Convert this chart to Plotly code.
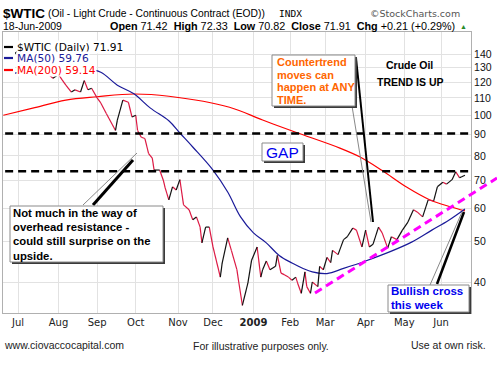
import math
import plotly.graph_objects as go

# ---------------- data ----------------
price_dates = [
    "2008-06-19", "2008-06-23", "2008-06-27", "2008-07-03", "2008-07-11", "2008-07-15", "2008-07-18",
    "2008-07-22", "2008-07-25", "2008-07-29", "2008-08-01", "2008-08-05", "2008-08-07", "2008-08-12",
    "2008-08-14", "2008-08-19", "2008-08-21", "2008-08-25", "2008-08-27", "2008-09-02", "2008-09-04",
    "2008-09-09", "2008-09-16", "2008-09-17", "2008-09-22", "2008-09-25", "2008-09-29", "2008-10-01",
    "2008-10-02", "2008-10-06", "2008-10-08", "2008-10-10", "2008-10-14", "2008-10-15", "2008-10-20",
    "2008-10-22", "2008-10-23", "2008-10-27", "2008-10-29", "2008-10-31", "2008-11-04", "2008-11-06",
    "2008-11-11", "2008-11-13", "2008-11-17", "2008-11-19", "2008-11-20", "2008-11-24", "2008-11-26",
    "2008-12-01", "2008-12-05", "2008-12-08", "2008-12-11", "2008-12-15", "2008-12-18", "2008-12-19",
    "2008-12-23", "2008-12-29", "2008-12-31", "2009-01-06", "2009-01-08", "2009-01-09", "2009-01-13",
    "2009-01-15", "2009-01-21", "2009-01-22", "2009-01-26", "2009-01-28", "2009-01-30", "2009-02-03",
    "2009-02-05", "2009-02-06", "2009-02-10", "2009-02-12", "2009-02-13", "2009-02-18", "2009-02-19",
    "2009-02-24", "2009-02-25", "2009-02-27", "2009-03-03", "2009-03-05", "2009-03-06", "2009-03-11",
    "2009-03-16", "2009-03-18", "2009-03-23", "2009-03-25", "2009-03-30", "2009-04-01", "2009-04-03",
    "2009-04-07", "2009-04-13", "2009-04-15", "2009-04-20", "2009-04-22", "2009-04-27", "2009-04-30",
    "2009-05-05", "2009-05-08", "2009-05-12", "2009-05-15", "2009-05-20", "2009-05-26", "2009-05-28",
    "2009-06-02", "2009-06-04", "2009-06-09", "2009-06-11", "2009-06-15", "2009-06-16", "2009-06-18",
]
price_close = [
    132, 136, 140, 145, 145, 138, 129,
    127, 124.7, 122.5, 125.1, 121.5, 118, 113.6,
    115, 113.6, 121, 115, 116, 110, 107,
    101, 92, 97.4, 108.7, 107.4, 99, 100,
    92, 88.6, 88, 81, 79, 74, 74,
    70, 67.1, 62.8, 67.5, 66.3, 70.2, 61.1,
    59.5, 56.3, 57.2, 54.1, 49.6, 54.1, 54.1,
    48.5, 41.1, 44.4, 51, 47.6, 42.8, 40,
    35.2, 39.8, 45.1, 48.5, 41.1, 42.8, 44.9,
    42.8, 43.6, 46.3, 42, 41.6, 41.1, 40.4,
    41.1, 39.8, 37.6, 42.3, 39, 37.6, 40,
    39, 43.6, 42.8, 45.8, 44.5, 47.6, 46.5,
    50.5, 51.3, 53.8, 53.2, 48.5, 53.2, 48.5,
    49.2, 54.1, 52.4, 48.2, 51.3, 50.5, 53.2,
    55.6, 59.5, 58.8, 57.2, 62.8, 62.5, 67.5,
    69.2, 68.5, 70.2, 73.3, 71.0, 71.2, 71.91,
]
ma50_dates = [
    "2008-06-20", "2008-07-10", "2008-07-25", "2008-08-08", "2008-08-20", "2008-09-04", "2008-09-17",
    "2008-09-30", "2008-10-13", "2008-10-27", "2008-11-04", "2008-11-13", "2008-12-01", "2008-12-11",
    "2008-12-22", "2009-01-02", "2009-01-13", "2009-01-23", "2009-02-03", "2009-02-11", "2009-02-19",
    "2009-03-03", "2009-03-16", "2009-04-01", "2009-04-20", "2009-05-07", "2009-05-22", "2009-06-05",
    "2009-06-18",
]
ma50_vals = [
    124.7, 128, 131, 131.5, 130, 126.6, 118,
    112.5, 104, 97, 90.7, 84, 74, 65.6,
    57.2, 52.4, 49.6, 46.3, 44.4, 43.1, 42.3,
    41.9, 43.1, 44.9, 47, 49.8, 53.2, 56.1,
    59.76,
]
ma200_dates = [
    "2008-06-19", "2008-07-14", "2008-08-07", "2008-09-02", "2008-09-30", "2008-10-27", "2008-12-12",
    "2009-01-09", "2009-02-05", "2009-03-12", "2009-03-27", "2009-04-15", "2009-05-04", "2009-05-21",
    "2009-06-08", "2009-06-18",
]
ma200_vals = [
    100, 104, 108.7, 110.7, 112.4, 111, 104.5,
    97.4, 91.1, 83.5, 79.5, 73.8, 67.5, 62.8,
    60.5, 59.14,
]
gap_levels = [90.5, 73.5]
month_ticks = ["2008-07-01", "2008-08-01", "2008-09-02", "2008-10-01", "2008-11-03", "2008-12-01",
               "2009-01-02", "2009-02-02", "2009-03-02", "2009-04-01", "2009-05-01", "2009-06-01"]
month_labels = ["Jul", "Aug", "Sep", "Oct", "Nov", "Dec", "<b>2009</b>", "Feb", "Mar", "Apr", "May", "Jun"]
price_ticks = [40, 50, 60, 70, 80, 90, 100, 110, 120, 130, 140]
holidays = ["2008-07-04", "2008-09-01", "2008-11-27", "2008-12-25", "2009-01-01", "2009-01-19",
            "2009-02-16", "2009-04-10", "2009-05-25"]

# ---------------- layout geometry ----------------
W, H = 497, 372
L, R, T, B = 3, 471, 32, 313


def PX(x):
    return (x - L) / (R - L)


def PY(y):
    return (B - y) / (B - T)


fig = go.Figure()

# moving averages
fig.add_trace(go.Scatter(x=ma200_dates, y=ma200_vals, mode="lines", line=dict(color="#ff0000", width=1.2, shape="spline"),
                         hoverinfo="skip"))
fig.add_trace(go.Scatter(x=ma50_dates, y=ma50_vals, mode="lines", line=dict(color="#1a1a99", width=1.2, shape="spline"),
                         hoverinfo="skip"))

# price line, black on up moves, red on down moves
up_x, up_y, dn_x, dn_y = [], [], [], []
for i in range(1, len(price_close)):
    sx = [price_dates[i - 1], price_dates[i], None]
    sy = [price_close[i - 1], price_close[i], None]
    if price_close[i] >= price_close[i - 1]:
        up_x += sx
        up_y += sy
    else:
        dn_x += sx
        dn_y += sy
fig.add_trace(go.Scatter(x=dn_x, y=dn_y, mode="lines", line=dict(color="#dc1a44", width=1.2), hoverinfo="skip"))
fig.add_trace(go.Scatter(x=up_x, y=up_y, mode="lines", line=dict(color="#111111", width=1.2), hoverinfo="skip"))

# gap lines
for lv in gap_levels:
    fig.add_trace(go.Scatter(x=["2008-06-20", "2009-07-01"], y=[lv, lv], mode="lines",
                             line=dict(color="black", width=2.5, dash="8px,5px"), hoverinfo="skip"))

shapes = []


def pline(x0, y0, x1, y1, color, width, dash=None):
    d = dict(type="line", xref="paper", yref="paper", x0=PX(x0), y0=PY(y0), x1=PX(x1), y1=PY(y1),
             line=dict(color=color, width=width), layer="above")
    if dash:
        d["line"]["dash"] = dash
    shapes.append(d)


def box(x0, y0, x1, y1):
    shapes.append(dict(type="rect", xref="paper", yref="paper", x0=PX(x0 + 2), y0=PY(y1 + 2), x1=PX(x1 + 2),
                       y1=PY(y0 + 2), fillcolor="#3a3a3a", line=dict(width=0), layer="above"))
    shapes.append(dict(type="rect", xref="paper", yref="paper", x0=PX(x0), y0=PY(y1), x1=PX(x1), y1=PY(y0),
                       fillcolor="white", line=dict(color="#8a8a8a", width=1), layer="above"))


# magenta trend line
pline(315, 293, 497, 178, "#ff00ff", 3, "8px,5px")

# callout pointers
pline(352, 106, 371, 222, "#888888", 1)
pline(356, 58, 373, 222, "#000000", 2)
pline(83, 205, 137, 153, "#888888", 1)
pline(93, 205, 133, 160, "#000000", 3)
pline(430, 285, 462, 212, "#888888", 1)
pline(437, 284, 464, 212, "#000000", 2.5)

# boxes
box(272, 55, 355, 106)
box(262, 143, 303, 161)
box(10, 206, 163, 262)
box(388, 285, 469, 312)

# legend glyph area
shapes.append(dict(type="rect", xref="paper", yref="paper", x0=PX(3), x1=PX(15), y0=PY(76), y1=PY(41),
                   fillcolor="white", line=dict(width=0), layer="above"))
for yy, col in [(47, "#000000"), (58, "#1a1a99"), (70, "#ff0000")]:
    pline(4, yy, 13, yy, col, 2.2)

fig.update_layout(shapes=shapes)


def text(x, y, s, size, color="#000", family="Liberation Sans", xanchor="left", bg=None):
    fig.add_annotation(x=PX(x), y=PY(y), xref="paper", yref="paper", text=s, showarrow=False,
                       xanchor=xanchor, yanchor="middle", font=dict(family=family, size=size, color=color),
                       bgcolor=bg, borderpad=0)


# legend text
text(16, 47, "$WTIC (Daily) 71.91", 10.6, "#000", "DejaVu Sans", bg="white")
text(16, 58, "MA(50) 59.76", 10.6, "#1a1a99", "DejaVu Sans", bg="white")
text(16, 70, "MA(200) 59.14", 10.6, "#ff0000", "DejaVu Sans", bg="white")

# header
text(2, 13, "<b>$WTIC</b>", 13.5)
text(47, 13, "(Oil - Light Crude - Continuous Contract (EOD))", 10.3)
text(278, 13, "INDX", 9.5, "#000", "DejaVu Sans Mono")
text(461, 13, "©StockCharts.com", 9.5, "#555", "DejaVu Sans", xanchor="right")
text(2, 26, "18-Jun-2009", 10.5)
text(456, 26, "<b>Open</b> 71.42  <b>High</b> 72.33  <b>Low</b> 70.82  <b>Close</b> 71.91  <b>Chg</b> +0.21 (+0.29%)",
     10.8, xanchor="right")
text(459, 26, "▲", 7, "#2a8a2a")

# box texts
for i, s in enumerate(["Countertrend", "moves can", "happen at ANY", "TIME."]):
    text(276, 62 + 12.6 * i, "<b>" + s + "</b>", 11, "#ff6600")
text(282.5, 152, "GAP", 15.5, "#0000ee", xanchor="center")
for i, s in enumerate(["Not much in the way of", "overhead resistance -", "could still surprise on the", "upside."]):
    text(12, 213 + 14.2 * i, "<b>" + s + "</b>", 11.3)
for i, s in enumerate(["Bullish cross", "this week"]):
    text(390, 291 + 14 * i, "<b>" + s + "</b>", 11.5, "#0000ee")
text(409, 65, "<b>Crude Oil</b>", 10.5, xanchor="center")
text(410, 82, "<b>TREND IS UP</b>", 10.5, xanchor="center")

# footer
text(3, 345, "www.ciovaccocapital.com", 10.5, "#222")
text(261, 346, "For illustrative purposes only.", 10.5, "#222", xanchor="center")
text(487, 345, "Use at own risk.", 10.5, "#222", xanchor="right")

fig.update_layout(
    width=W, height=H,
    margin=dict(l=L, r=W - R, t=T, b=H - B, pad=0),
    paper_bgcolor="white", plot_bgcolor="white",
    showlegend=False,
    xaxis=dict(
        type="date",
        range=["2008-06-18 20:00", "2009-06-23 07:00"],
        rangebreaks=[dict(bounds=["sat", "mon"]), dict(values=holidays)],
        tickmode="array", tickvals=month_ticks, ticktext=month_labels,
        showgrid=True, gridcolor="#e2e2e2", gridwidth=1,
        showline=True, linecolor="#b0b0b0", linewidth=1, mirror=True,
        ticks="", tickfont=dict(family="DejaVu Sans", size=10, color="#222"),
        zeroline=False, fixedrange=True,
    ),
    yaxis=dict(
        type="log", side="right",
        range=[math.log10(33.74), math.log10(158)],
        tickmode="array", tickvals=price_ticks, ticktext=[str(v) for v in price_ticks],
        showgrid=True, gridcolor="#e2e2e2", gridwidth=1,
        showline=True, linecolor="#b0b0b0", linewidth=1, mirror=True,
        ticks="", tickfont=dict(family="Liberation Sans", size=10.5, color="#111"),
        zeroline=False, fixedrange=True,
    ),
)

fig.write_html("out.html", config={"displayModeBar": False, "staticPlot": True},
               post_script="document.body.style.margin='0';document.body.style.overflow='hidden';")
